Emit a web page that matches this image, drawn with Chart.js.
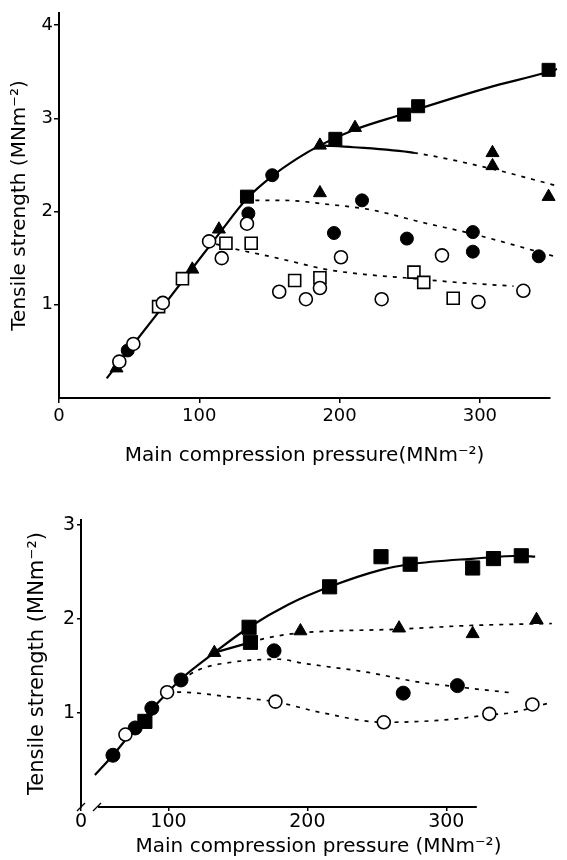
<!DOCTYPE html>
<html>
<head>
<meta charset="utf-8">
<script src="https://cdn.jsdelivr.net/npm/chart.js@4.4.1/dist/chart.umd.min.js"></script>
<style>
html, body { margin: 0; padding: 0; background: #fff; }
#wrap { position: relative; width: 567px; height: 860px; }
#c1 { position: absolute; left: 0; top: 0; }
#c2 { position: absolute; left: 0; top: 480px; }
</style>
</head>
<body>
<div id="wrap">
  <canvas id="c1" width="567" height="480"></canvas>
  <canvas id="c2" width="567" height="380"></canvas>
</div>
<script>
// ---- top panel data ----
const topXTicks = [0, 100, 200, 300];
const topYTicks = [1, 2, 3, 4];
const topSqX = [134, 197, 246, 256, 349];
const topSqY = [2.16, 2.78, 3.04, 3.13, 3.52];
const topTriX = [41, 95, 114, 186, 211, 186, 309, 309, 349];
const topTriY = [0.32, 1.38, 1.81, 2.71, 2.90, 2.20, 2.63, 2.49, 2.16];
const topDotX = [49, 135, 152, 216, 196, 248, 295, 295, 342];
const topDotY = [0.51, 1.98, 2.39, 2.12, 1.77, 1.71, 1.78, 1.57, 1.52];
const topRingX = [43, 53, 74, 107, 116, 134, 157, 176, 186, 201, 230, 273, 299, 331];
const topRingY = [0.39, 0.58, 1.02, 1.68, 1.50, 1.87, 1.14, 1.06, 1.18, 1.51, 1.06, 1.53, 1.03, 1.15];
const topBoxX = [71, 88, 119, 137, 168, 186, 253, 260, 281];
const topBoxY = [0.98, 1.28, 1.66, 1.66, 1.26, 1.29, 1.35, 1.24, 1.07];
// fitted curves
const topMainX = [34, 74, 114, 134, 152, 170, 186, 211, 246, 256, 306, 349, 355];
const topMainY = [0.21, 0.98, 1.76, 2.14, 2.38, 2.57, 2.71, 2.88, 3.05, 3.10, 3.33, 3.50, 3.53];
const topBranchAX = [186, 210, 253, 308, 354];
const topBranchAY = [2.71, 2.69, 2.63, 2.46, 2.28];
const topBranchBX = [140, 160, 190, 222, 260, 295, 353];
const topBranchBY = [2.12, 2.12, 2.08, 2.02, 1.88, 1.76, 1.52];
const topBranchCX = [112, 125, 150, 170, 190, 222, 246, 284, 324];
const topBranchCY = [1.65, 1.60, 1.52, 1.45, 1.38, 1.32, 1.29, 1.24, 1.20];

// ---- bottom panel data ----
const botXMin = 37;          // axis is broken, this spot is labelled 0
const botAxisEnd = 322;
const botXTicks = [37, 100, 200, 300];
const botYTicks = [1, 2, 3];
const botSqX = [83, 158, 159, 216, 253, 274, 319, 334, 354];
const botSqY = [0.91, 1.91, 1.75, 2.34, 2.66, 2.58, 2.54, 2.64, 2.67];
const botTriX = [133, 195, 266, 319, 365];
const botTriY = [1.64, 1.87, 1.90, 1.84, 1.99];
const botDotX = [60, 76, 88, 109, 176, 269, 308];
const botDotY = [0.55, 0.84, 1.05, 1.35, 1.66, 1.21, 1.29];
const botRingX = [69, 99, 177, 255, 331, 362];
const botRingY = [0.77, 1.22, 1.12, 0.90, 0.99, 1.09];
const botMainX = [47, 60, 76, 88, 99, 109, 133, 158, 186, 216, 253, 274, 320, 354, 364];
const botMainY = [0.34, 0.55, 0.84, 1.04, 1.21, 1.36, 1.64, 1.91, 2.15, 2.34, 2.52, 2.58, 2.64, 2.67, 2.66];
const botBranchX = [133, 159];
const botBranchY = [1.64, 1.75];
const botTriDashX = [159, 172, 195, 266, 319, 376];
const botTriDashY = [1.75, 1.80, 1.85, 1.89, 1.93, 1.95];
const botDotDashX = [109, 122, 146, 180, 196, 244, 279, 306, 349];
const botDotDashY = [1.35, 1.46, 1.54, 1.57, 1.53, 1.43, 1.33, 1.28, 1.21];
const botRingDashX = [99, 108, 144, 176, 211, 255, 303, 331, 346, 373];
const botRingDashY = [1.22, 1.22, 1.17, 1.12, 1.00, 0.90, 0.93, 0.98, 1.00, 1.10];

const FONT = "'DejaVu Sans', sans-serif";
const DASH = [4, 6];

function pts(xs, ys) {
    return xs.map(function (x, i) { return {x: x, y: ys[i]}; });
}

function marks(xs, ys, style, r, open) {
    return {
        data: pts(xs, ys),
        showLine: false,
        pointStyle: style,
        pointRadius: r,
        pointHoverRadius: r,
        pointBackgroundColor: open ? '#fff' : '#000',
        pointBorderColor: '#000',
        pointBorderWidth: open ? 1.6 : 1,
        clip: false,
        order: 0
    };
}

function curve(xs, ys, dash, dashFrom) {
    let ds = {
        data: pts(xs, ys),
        showLine: true,
        pointRadius: 0,
        borderColor: '#000',
        borderWidth: dash ? 1.7 : 2.2,
        borderDash: dash ? DASH : [],
        cubicInterpolationMode: 'monotone',
        clip: false,
        order: 1
    };
    if (dashFrom !== undefined) {
        ds.segment = {
            borderDash: function (ctx) { return ctx.p0.parsed.x >= dashFrom ? DASH : undefined; },
            borderWidth: function (ctx) { return ctx.p0.parsed.x >= dashFrom ? 1.7 : undefined; }
        };
    }
    return ds;
}

function scales(o) {
    return {
        x: {
            type: 'linear', min: o.xMin, max: o.xMax,
            afterBuildTicks: function (s) { s.ticks = o.xTicks.map(function (v) { return {value: v}; }); },
            afterFit: function (s) { s.height = o.xHeight; },
            grid: {drawOnChartArea: false, drawTicks: true, tickLength: o.tickLen, color: '#000', lineWidth: 1.5},
            border: {display: o.xBorder, color: '#000', width: 2},
            ticks: {
                color: '#000', font: {family: FONT, size: o.tickSize}, padding: o.xTickPad,
                maxRotation: 0, autoSkip: false,
                callback: function (v) { return v === o.xMin ? '0' : v; }
            },
            title: {display: true, text: o.xTitle, color: '#000', font: {family: FONT, size: o.xTitleSize},
                    padding: {top: 0, bottom: o.xTitlePad}}
        },
        y: {
            type: 'linear', min: 0, max: o.yMax,
            afterBuildTicks: function (s) { s.ticks = o.yTicks.map(function (v) { return {value: v}; }); },
            afterFit: function (s) { s.width = o.yWidth; },
            grid: {drawOnChartArea: false, drawTicks: true, tickLength: o.tickLen, color: '#000', lineWidth: 1.5},
            border: {display: true, color: '#000', width: 2},
            ticks: {color: '#000', font: {family: FONT, size: o.tickSize}, padding: o.yTickPad, autoSkip: false},
            title: {display: true, text: 'Tensile strength (MNm\u207B\u00B2)', color: '#000',
                    font: {family: FONT, size: o.yTitleSize}, padding: {top: o.yTitlePad, bottom: 0}}
        }
    };
}

// Top chart
new Chart(document.getElementById('c1'), {
    type: 'scatter',
    data: {
        datasets: [
            curve(topMainX, topMainY, false),
            curve(topBranchAX, topBranchAY, false, 253),
            curve(topBranchBX, topBranchBY, true),
            curve(topBranchCX, topBranchCY, true),
            marks(topRingX, topRingY, 'circle', 6.5, true),
            marks(topBoxX, topBoxY, 'rect', 8.5, true),
            marks(topDotX, topDotY, 'circle', 6.5, false),
            marks(topTriX, topTriY, 'triangle', 7.5, false),
            marks(topSqX, topSqY, 'rect', 9.2, false)
        ]
    },
    options: {
        responsive: false,
        animation: false,
        layout: {padding: {left: 0, right: 17, top: 13, bottom: 0}},
        plugins: {legend: {display: false}, tooltip: {enabled: false}},
        scales: scales({
            xMin: 0, xMax: 350, xTicks: topXTicks, xHeight: 82, xBorder: true,
            yMax: 4.13, yTicks: topYTicks, yWidth: 59,
            tickLen: 5, tickSize: 18, xTickPad: 3, yTickPad: 1,
            xTitle: 'Main compression pressure(MNm\u207B\u00B2)', xTitleSize: 20, xTitlePad: 12,
            yTitleSize: 20, yTitlePad: 8
        })
    }
});

// broken x axis for the lower chart
const brokenAxis = {
    id: 'brokenAxis',
    afterDraw: function (chart) {
        const ctx = chart.ctx;
        const xs = chart.scales.x;
        const y0 = xs.top;
        ctx.save();
        ctx.strokeStyle = '#000';
        ctx.lineWidth = 2;
        ctx.beginPath();
        ctx.moveTo(xs.left + 17, y0);
        ctx.lineTo(xs.getPixelForValue(botAxisEnd), y0);
        ctx.stroke();
        ctx.lineWidth = 1.3;
        [xs.left, xs.left + 16].forEach(function (px) {
            ctx.beginPath();
            ctx.moveTo(px - 4, y0 + 4);
            ctx.lineTo(px + 4, y0 - 4);
            ctx.stroke();
        });
        ctx.restore();
    }
};

// Bottom chart
new Chart(document.getElementById('c2'), {
    type: 'scatter',
    data: {
        datasets: [
            curve(botMainX, botMainY, false),
            curve(botBranchX, botBranchY, false),
            curve(botTriDashX, botTriDashY, true),
            curve(botDotDashX, botDotDashY, true),
            curve(botRingDashX, botRingDashY, true),
            marks(botRingX, botRingY, 'circle', 6.5, true),
            marks(botDotX, botDotY, 'circle', 7, false),
            marks(botTriX, botTriY, 'triangle', 7.5, false),
            marks(botSqX, botSqY, 'rect', 10, false)
        ]
    },
    options: {
        responsive: false,
        animation: false,
        layout: {padding: {left: 0, right: 7, top: 40, bottom: 0}},
        plugins: {legend: {display: false}, tooltip: {enabled: false}},
        scales: scales({
            xMin: botXMin, xMax: 379, xTicks: botXTicks, xHeight: 53, xBorder: false,
            yMax: 3.05, yTicks: botYTicks, yWidth: 81,
            tickLen: 4, tickSize: 19, xTickPad: 0, yTickPad: 2,
            xTitle: 'Main compression pressure (MNm\u207B\u00B2)', xTitleSize: 20, xTitlePad: 1,
            yTitleSize: 21, yTitlePad: 25
        })
    },
    plugins: [brokenAxis]
});
</script>
</body>
</html>
